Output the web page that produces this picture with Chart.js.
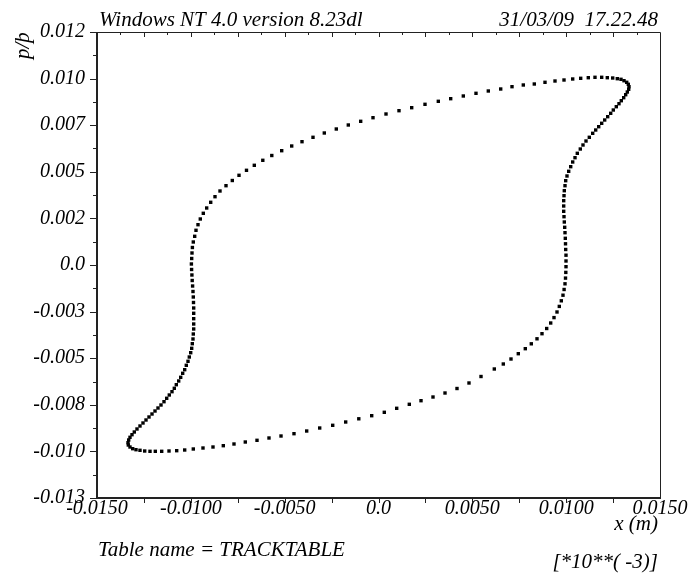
<!DOCTYPE html>
<html>
<head>
<meta charset="utf-8">
<script src="https://cdn.jsdelivr.net/npm/chart.js@4.4.1/dist/chart.umd.min.js"></script>
<style>
  html, body { margin: 0; padding: 0; background: #fff; }
  canvas { display: block; }
</style>
</head>
<body>
<canvas id="track" width="690" height="573"></canvas>
<script>
// tick labels as printed on the plot
let xTickLabels = ['-0.0150', '-0.0100', '-0.0050', '0.0', '0.0050', '0.0100', '0.0150'];
let yTickLabels = ['-0.013', '-0.010', '-0.008', '-0.005', '-0.003', '0.0', '0.002', '0.005', '0.007', '0.010', '0.012'];

// tracked particle, x (m)
let xValues = [
  -0.013348, -0.013311, -0.013242, -0.013135, -0.013013, -0.012869, -0.012709, -0.012549, -0.012389, -0.012229,
  -0.012069, -0.011909, -0.011750, -0.011590, -0.011430, -0.011286, -0.011148, -0.011004, -0.010881, -0.010774,
  -0.010647, -0.010540, -0.010434, -0.010327, -0.010242, -0.010151, -0.010082, -0.010007, -0.009954, -0.009922,
  -0.009885, -0.009869, -0.009847, -0.009847, -0.009847, -0.009847, -0.009847, -0.009858, -0.009869, -0.009885,
  -0.009906, -0.009927, -0.009943, -0.009959, -0.009970, -0.009954, -0.009938, -0.009917, -0.009869, -0.009794,
  -0.009725, -0.009618, -0.009496, -0.009336, -0.009155, -0.008941, -0.008712, -0.008446, -0.008126, -0.007790,
  -0.007433, -0.007034, -0.006618, -0.006165, -0.005686, -0.005158, -0.004625, -0.004076, -0.003490, -0.002888,
  -0.002249, -0.001609, -0.000949, -0.000293, 0.000400, 0.001092, 0.001769, 0.002478, 0.003187, 0.003847,
  0.004519, 0.005195, 0.005851, 0.006512, 0.007114, 0.007716, 0.008302, 0.008872, 0.009405, 0.009885,
  0.010348, 0.010774, 0.011179, 0.011536, 0.011893, 0.012192, 0.012480, 0.012725, 0.012922, 0.013082,
  0.013226, 0.013311, 0.013348, 0.013332, 0.013258, 0.013172, 0.013066, 0.012938, 0.012815, 0.012671,
  0.012512, 0.012373, 0.012213, 0.012053, 0.011893, 0.011734, 0.011574, 0.011414, 0.011233, 0.011057,
  0.010897, 0.010753, 0.010593, 0.010471, 0.010348, 0.010242, 0.010135, 0.010044, 0.009975, 0.009938,
  0.009901, 0.009885, 0.009869, 0.009869, 0.009869, 0.009885, 0.009901, 0.009922, 0.009938, 0.009954,
  0.009965, 0.009975, 0.009991, 0.009991, 0.009991, 0.009981, 0.009965, 0.009938, 0.009890, 0.009831,
  0.009741, 0.009634, 0.009512, 0.009352, 0.009176, 0.008963, 0.008712, 0.008446, 0.008142, 0.007822,
  0.007449, 0.007060, 0.006650, 0.006171, 0.005462, 0.004822, 0.004183, 0.003544, 0.002904, 0.002265,
  0.001641, 0.000970, 0.000309, -0.000362, -0.001050, -0.001748, -0.002440, -0.003133, -0.003826, -0.004503,
  -0.005195, -0.005835, -0.006474, -0.007098, -0.007700, -0.008270, -0.008819, -0.009352, -0.009869, -0.010327,
  -0.010753, -0.011163, -0.011552, -0.011893, -0.012176, -0.012458, -0.012709, -0.012922, -0.013098, -0.013242,
  -0.013332
];

// tracked particle, p/p0
let pValues = [
  -0.009533, -0.009388, -0.009244, -0.009104, -0.008959, -0.008798, -0.008637, -0.008476, -0.008315, -0.008154,
  -0.007994, -0.007833, -0.007672, -0.007511, -0.007334, -0.007151, -0.006974, -0.006797, -0.006615, -0.006422,
  -0.006223, -0.006025, -0.005810, -0.005617, -0.005381, -0.005166, -0.004936, -0.004705, -0.004469, -0.004222,
  -0.003970, -0.003702, -0.003433, -0.003165, -0.002881, -0.002591, -0.002307, -0.002012, -0.001717, -0.001422,
  -0.001127, -0.000832, -0.000536, -0.000241, 0.000054, 0.000349, 0.000644, 0.000939, 0.001234, 0.001540,
  0.001862, 0.002162, 0.002468, 0.002774, 0.003058, 0.003364, 0.003664, 0.003970, 0.004254, 0.004533,
  0.004812, 0.005080, 0.005349, 0.005617, 0.005874, 0.006132, 0.006384, 0.006615, 0.006851, 0.007082,
  0.007296, 0.007511, 0.007709, 0.007902, 0.008101, 0.008278, 0.008439, 0.008621, 0.008782, 0.008922,
  0.009067, 0.009211, 0.009335, 0.009442, 0.009566, 0.009657, 0.009710, 0.009802, 0.009871, 0.009925,
  0.009979, 0.010016, 0.010048, 0.010070, 0.010070, 0.010048, 0.010032, 0.009995, 0.009962, 0.009887,
  0.009802, 0.009694, 0.009566, 0.009426, 0.009281, 0.009136, 0.008975, 0.008814, 0.008653, 0.008492,
  0.008315, 0.008138, 0.007956, 0.007779, 0.007602, 0.007419, 0.007242, 0.007065, 0.006851, 0.006652,
  0.006438, 0.006223, 0.005992, 0.005756, 0.005526, 0.005274, 0.005027, 0.004775, 0.004523, 0.004254,
  0.003986, 0.003718, 0.003450, 0.003165, 0.002881, 0.002591, 0.002307, 0.002023, 0.001733, 0.001432,
  0.001137, 0.000832, 0.000526, 0.000215, -0.000091, -0.000397, -0.000703, -0.001009, -0.001314, -0.001620,
  -0.001921, -0.002221, -0.002521, -0.002822, -0.003112, -0.003407, -0.003686, -0.003959, -0.004228, -0.004490,
  -0.004759, -0.005043, -0.005311, -0.005579, -0.005982, -0.006330, -0.006626, -0.006867, -0.007082, -0.007280,
  -0.007473, -0.007688, -0.007902, -0.008085, -0.008251, -0.008423, -0.008600, -0.008745, -0.008906, -0.009050,
  -0.009174, -0.009281, -0.009405, -0.009496, -0.009603, -0.009694, -0.009764, -0.009818, -0.009871, -0.009925,
  -0.009962, -0.009979, -0.009995, -0.009995, -0.009995, -0.009979, -0.009941, -0.009909, -0.009855, -0.009764,
  -0.009657
];

let points = xValues.map((x, i) => ({ x: x, y: pValues[i] }));

const serif = '"Liberation Serif", "DejaVu Serif", serif';
const tickFont = { family: serif, size: 20, style: 'italic' };

// frame, minor ticks and the loose texts round the plot
let framePlugin = {
  id: 'frame',
  afterDraw(chart) {
    const ctx = chart.ctx;
    const a = chart.chartArea;
    const xs = chart.scales.x;
    const ys = chart.scales.y;
    ctx.save();
    ctx.strokeStyle = '#222';

    // top and right, thin
    ctx.lineWidth = 1;
    ctx.beginPath();
    ctx.moveTo(a.left, a.top + 0.5);
    ctx.lineTo(a.right + 0.5, a.top + 0.5);
    ctx.lineTo(a.right + 0.5, a.bottom);
    ctx.stroke();

    // left and bottom axes
    ctx.lineWidth = 2;
    ctx.beginPath();
    ctx.moveTo(a.left, a.top);
    ctx.lineTo(a.left, a.bottom);
    ctx.lineTo(a.right + 1, a.bottom);
    ctx.stroke();

    ctx.lineWidth = 1;
    ctx.beginPath();
    // top: inward ticks every 0.00125
    for (let k = -11; k <= 11; k++) {
      const px = Math.round(xs.getPixelForValue(k * 0.00125)) + 0.5;
      const len = k % 2 === 0 ? 5 : 3;
      ctx.moveTo(px, a.top);
      ctx.lineTo(px, a.top + len);
    }
    // bottom: outward ticks every 0.0025
    for (let k = -5; k <= 5; k++) {
      const px = Math.round(xs.getPixelForValue(k * 0.0025)) + 0.5;
      ctx.moveTo(px, a.bottom);
      ctx.lineTo(px, a.bottom + 5);
    }
    // left: outward ticks, long at labels, short between
    for (let k = -10; k <= 10; k++) {
      const py = Math.round(ys.getPixelForValue(k * 0.00125)) + 0.5;
      const len = k % 2 === 0 ? 7 : 4;
      ctx.moveTo(a.left, py);
      ctx.lineTo(a.left - len, py);
    }
    ctx.stroke();

    ctx.fillStyle = '#000';
    ctx.font = 'italic 21px ' + serif;
    ctx.textBaseline = 'alphabetic';
    ctx.textAlign = 'left';
    ctx.fillText('Windows NT 4.0 version 8.23dl', 99, 26);
    ctx.fillText('Table name = TRACKTABLE', 98, 556);
    ctx.textAlign = 'right';
    ctx.fillText('31/03/09  17.22.48', 658, 26);
    ctx.fillText('x (m)', 658, 530);
    ctx.fillText('[*10**( -3)]', 658, 568);

    ctx.translate(29, 59);
    ctx.rotate(-Math.PI / 2);
    ctx.textAlign = 'left';
    ctx.fillText('p/þ', 0, 0);
    ctx.restore();
  }
};

new Chart(document.getElementById('track'), {
  type: 'scatter',
  data: {
    datasets: [{
      data: points,
      pointStyle: 'rect',
      pointRadius: 2.4,
      pointHoverRadius: 2.4,
      backgroundColor: '#000',
      borderWidth: 0
    }]
  },
  options: {
    responsive: false,
    animation: false,
    events: [],
    layout: { padding: { top: 32, right: 30, left: 0, bottom: 0 } },
    plugins: { legend: { display: false }, tooltip: { enabled: false } },
    scales: {
      x: {
        type: 'linear',
        min: -0.015,
        max: 0.015,
        afterFit: s => { s.height = 75; },
        grid: { display: false, drawTicks: false },
        border: { display: false },
        ticks: {
          stepSize: 0.005,
          autoSkip: false,
          maxRotation: 0,
          padding: -1,
          color: '#000',
          font: tickFont,
          callback: (v, i) => xTickLabels[i]
        }
      },
      y: {
        type: 'linear',
        min: -0.0125,
        max: 0.0125,
        afterFit: s => { s.width = 97; },
        grid: { display: false, drawTicks: false },
        border: { display: false },
        ticks: {
          stepSize: 0.0025,
          autoSkip: false,
          padding: 12,
          color: '#000',
          font: tickFont,
          callback: (v, i) => yTickLabels[i]
        }
      }
    }
  },
  plugins: [framePlugin]
});
</script>
</body>
</html>
